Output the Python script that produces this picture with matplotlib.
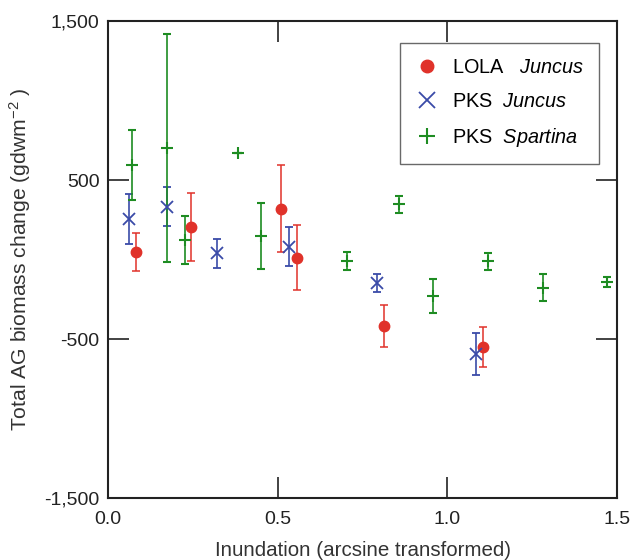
import matplotlib
matplotlib.use("Agg")
import matplotlib.pyplot as plt
from matplotlib.ticker import FuncFormatter
from matplotlib.lines import Line2D

plt.rcParams['font.family'] = ['Liberation Sans', 'DejaVu Sans']
plt.rcParams['mathtext.fontset'] = 'custom'
plt.rcParams['mathtext.rm'] = 'Liberation Sans'
plt.rcParams['mathtext.it'] = 'Liberation Sans:italic'

# LOLA Juncus
lola_j_x = [0.083, 0.245, 0.509, 0.556, 0.8125, 1.105]
lola_j_y = [45, 206, 320, 11, -418, -548]
lola_j_err = [120, 215, 275, 205, 135, 125]

# PKS Juncus
pks_j_x = [0.063, 0.174, 0.321, 0.534, 0.794, 1.083]
pks_j_y = [255, 332, 39, 81, -150, -594]
pks_j_err = [155, 122, 90, 123, 57, 130]

# PKS Spartina
pks_s_x = [0.072, 0.174, 0.227, 0.383, 0.452, 0.704, 0.858, 0.959, 1.119, 1.283, 1.470]
pks_s_y = [594, 703, 123, 668, 148, -9, 347, -230, -11, -177, -142]
pks_s_err = [222, 716, 150, 0, 208, 57, 55, 105, 55, 83, 30]

xticks = [0.0, 0.5, 1.0, 1.5]
yticks = [-1500, -500, 500, 1500]

red = '#E0322A'
blue = '#3A4BA8'
green = '#1E8C22'

fig = plt.figure(figsize=(6.39, 5.6), dpi=100)
ax = fig.add_axes([0.169, 0.1107, 0.7966, 0.8518])

ax.errorbar(lola_j_x, lola_j_y, yerr=lola_j_err, fmt='o', color=red, ms=7.5,
            ecolor=red, elinewidth=1.1, capsize=3.2, capthick=1.1)
ax.errorbar(pks_j_x, pks_j_y, yerr=pks_j_err, fmt='x', color=blue, ms=8, mew=1.3,
            ecolor=blue, elinewidth=1.2, capsize=3.2, capthick=1.2)
ax.errorbar(pks_s_x, pks_s_y, yerr=pks_s_err, fmt='+', color=green, ms=8, mew=1.5,
            ecolor=green, elinewidth=1.2, capsize=3.2, capthick=1.2)

ax.set_xlim(0, 1.5)
ax.set_ylim(-1500, 1500)
ax.set_xticks(xticks)
ax.set_yticks(yticks)
ax.yaxis.set_major_formatter(FuncFormatter(lambda v, p: f'{int(v):,}'))
ax.xaxis.set_major_formatter(FuncFormatter(lambda v, p: f'{v:.1f}'))
ax.tick_params(direction='in', length=15, width=1.2, top=True, right=True,
               labelsize=14, colors='#222222')
ax.tick_params(axis='y', pad=6)
ax.tick_params(axis='x', pad=9)
for s in ax.spines.values():
    s.set_linewidth(1.5)
    s.set_color('#222222')

ax.set_xlabel('Inundation (arcsine transformed)', fontsize=14.8, color='#333333', labelpad=10)
ax.set_ylabel('Total AG biomass change (gdwm$^{-2}$ )', fontsize=15.2, color='#333333', labelpad=8)

handles = [
    Line2D([], [], ls='none', marker='o', color=red, ms=9),
    Line2D([], [], ls='none', marker='x', color=blue, ms=11, mew=1.3),
    Line2D([], [], ls='none', marker='+', color=green, ms=12, mew=1.5),
]
labels = ['LOLA   $\\it{Juncus}$', 'PKS  $\\it{Juncus}$', 'PKS  $\\it{Spartina}$']
leg = ax.legend(handles, labels, loc='upper right', bbox_to_anchor=(0.965, 0.954), fontsize=14.3,
                frameon=True, fancybox=False, edgecolor='#444444', borderaxespad=0,
                handletextpad=0.7, borderpad=0.75, labelspacing=0.75, handlelength=1.2)
leg.get_frame().set_linewidth(1.0)

fig.savefig('out.png', dpi=100)
